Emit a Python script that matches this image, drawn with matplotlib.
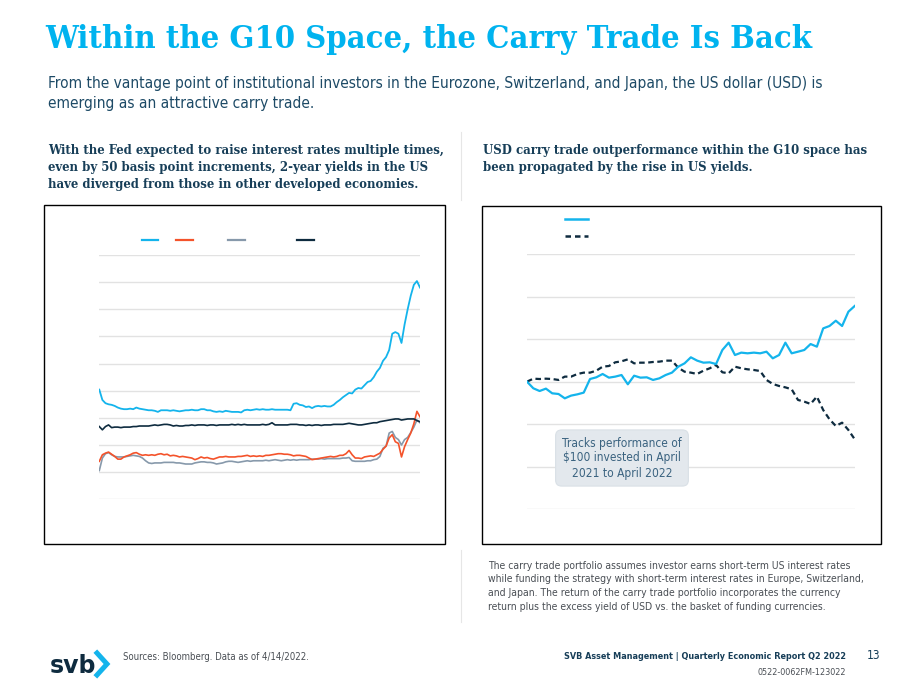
"""
Within the G10 space, the carry trade is back
Two-panel page: 2-year yields (left) and USD carry trade vs. G10 basket (right)
"""

import numpy as np
import pandas as pd
import matplotlib
matplotlib.use('Agg')
import matplotlib.pyplot as plt
from matplotlib.lines import Line2D
from matplotlib.patches import Rectangle

W, H = 920, 690

# ---- left panel: 2-year government yields (%), weekly, Apr 2020 - Apr 2022
yield_dates = pd.date_range('2020-04-14', periods=105, freq='7D')

us_2y = [
    0.52, 0.33, 0.27, 0.25, 0.24, 0.22, 0.19, 0.17, 0.16, 0.16,
    0.17, 0.16, 0.19, 0.17, 0.16, 0.15, 0.14, 0.14, 0.13, 0.11,
    0.14, 0.14, 0.14, 0.13, 0.14, 0.13, 0.12, 0.13, 0.14, 0.14,
    0.15, 0.14, 0.14, 0.16, 0.16, 0.14, 0.14, 0.12, 0.11, 0.12,
    0.11, 0.13, 0.12, 0.11, 0.11, 0.11, 0.10, 0.14, 0.15, 0.14,
    0.15, 0.16, 0.15, 0.16, 0.15, 0.15, 0.16, 0.15, 0.15, 0.15,
    0.15, 0.15, 0.14, 0.26, 0.27, 0.24, 0.23, 0.20, 0.21, 0.18,
    0.21, 0.22, 0.21, 0.22, 0.21, 0.21, 0.24, 0.29, 0.33, 0.38,
    0.42, 0.46, 0.45, 0.52, 0.55, 0.54, 0.60, 0.66, 0.68, 0.75,
    0.85, 0.92, 1.05, 1.12, 1.25, 1.55, 1.58, 1.55, 1.38, 1.72,
    2.00, 2.25, 2.45, 2.52, 2.40,
]
germany_2y = [
    -0.80, -0.68, -0.65, -0.63, -0.67, -0.71, -0.76, -0.76, -0.72, -0.70,
    -0.68, -0.65, -0.64, -0.67, -0.69, -0.68, -0.69, -0.68, -0.69, -0.67,
    -0.66, -0.68, -0.67, -0.70, -0.69, -0.70, -0.72, -0.71, -0.72, -0.73,
    -0.74, -0.77, -0.75, -0.72, -0.74, -0.73, -0.75, -0.76, -0.74, -0.72,
    -0.72, -0.71, -0.72, -0.72, -0.72, -0.71, -0.71, -0.70, -0.69, -0.71,
    -0.70, -0.71, -0.70, -0.71, -0.69, -0.69, -0.68, -0.67, -0.66, -0.66,
    -0.67, -0.67, -0.68, -0.70, -0.69, -0.69, -0.70, -0.71, -0.74, -0.77,
    -0.76, -0.75, -0.74, -0.73, -0.72, -0.71, -0.72, -0.71, -0.69, -0.69,
    -0.66, -0.60, -0.68, -0.74, -0.74, -0.75, -0.72, -0.71, -0.70, -0.71,
    -0.68, -0.65, -0.58, -0.52, -0.37, -0.31, -0.44, -0.47, -0.72, -0.53,
    -0.40, -0.28, -0.11, 0.12, 0.02,
]
swiss_2y = [
    -0.97, -0.74, -0.66, -0.64, -0.68, -0.71, -0.72, -0.72, -0.72, -0.71,
    -0.70, -0.69, -0.70, -0.71, -0.74, -0.79, -0.83, -0.84, -0.83, -0.83,
    -0.83, -0.82, -0.82, -0.82, -0.82, -0.83, -0.83, -0.84, -0.85, -0.85,
    -0.85, -0.83, -0.82, -0.81, -0.81, -0.82, -0.82, -0.83, -0.85, -0.84,
    -0.83, -0.81, -0.80, -0.80, -0.81, -0.82, -0.81, -0.80, -0.79, -0.80,
    -0.79, -0.79, -0.79, -0.79, -0.78, -0.79, -0.78, -0.77, -0.78, -0.79,
    -0.78, -0.77, -0.78, -0.77, -0.78, -0.77, -0.77, -0.77, -0.77, -0.76,
    -0.76, -0.76, -0.75, -0.76, -0.75, -0.75, -0.75, -0.75, -0.75, -0.74,
    -0.74, -0.73, -0.79, -0.80, -0.80, -0.80, -0.80, -0.79, -0.79, -0.77,
    -0.76, -0.71, -0.56, -0.52, -0.28, -0.25, -0.36, -0.40, -0.50, -0.40,
    -0.36, -0.27, -0.17, -0.04, -0.09,
]
japan_2y = [
    -0.16, -0.22, -0.16, -0.13, -0.18, -0.17, -0.17, -0.18, -0.17, -0.17,
    -0.17, -0.16, -0.16, -0.15, -0.15, -0.15, -0.15, -0.14, -0.13, -0.14,
    -0.13, -0.12, -0.12, -0.13, -0.15, -0.14, -0.15, -0.15, -0.14, -0.14,
    -0.13, -0.14, -0.13, -0.13, -0.13, -0.14, -0.13, -0.13, -0.14, -0.13,
    -0.13, -0.13, -0.13, -0.12, -0.13, -0.12, -0.13, -0.12, -0.13, -0.13,
    -0.13, -0.13, -0.13, -0.12, -0.13, -0.12, -0.09, -0.13, -0.13, -0.13,
    -0.13, -0.13, -0.12, -0.12, -0.12, -0.13, -0.13, -0.14, -0.13, -0.14,
    -0.13, -0.13, -0.14, -0.13, -0.13, -0.13, -0.12, -0.12, -0.12, -0.12,
    -0.11, -0.10, -0.11, -0.12, -0.13, -0.13, -0.12, -0.11, -0.10, -0.09,
    -0.09, -0.07, -0.06, -0.05, -0.04, -0.03, -0.02, -0.02, -0.04, -0.03,
    -0.02, -0.02, -0.02, -0.05, -0.07,
]

# ---- right panel: $100 invested, weekly, Apr 2021 - Apr 2022
carry_dates = pd.date_range('2021-04-14', periods=53, freq='7D')

usd_carry = [
    100.00, 99.22, 98.90, 99.18, 98.63, 98.55, 98.04, 98.36, 98.51, 98.71,
    100.31, 100.51, 100.90, 100.47, 100.59, 100.78, 99.69, 100.70, 100.47, 100.51,
    100.20, 100.39, 100.78, 101.06, 101.76, 102.15, 102.86, 102.47, 102.23, 102.27,
    102.07, 103.72, 104.58, 103.13, 103.41, 103.33, 103.41, 103.33, 103.52, 102.74,
    103.13, 104.58, 103.33, 103.52, 103.72, 104.42, 104.11, 106.26, 106.54, 107.16,
    106.54, 108.22, 108.89,
]
g10_carry = [
    100.00, 100.35, 100.31, 100.35, 100.31, 100.20, 100.59, 100.59, 100.90, 101.06,
    101.06, 101.29, 101.76, 101.84, 102.27, 102.39, 102.62, 102.15, 102.23, 102.23,
    102.31, 102.35, 102.47, 102.47, 101.64, 101.17, 101.06, 100.90, 101.29, 101.57,
    101.96, 101.10, 100.98, 101.76, 101.57, 101.45, 101.37, 101.25, 100.20, 99.73,
    99.49, 99.33, 99.10, 97.85, 97.65, 97.38, 98.24, 96.67, 95.58, 94.79,
    95.18, 94.32, 93.23,
]

CYAN = '#14b4ec'
RED = '#f4532b'
GREY = '#8799ab'
NAVY = '#0e2b3f'
TEXT = '#1d4a66'
GRID = '#e2e2e2'

SANS = dict(family=['DejaVu Sans'], fontstretch='condensed')
SLAB = dict(family=['DejaVu Serif'], fontstretch='condensed', fontweight='bold')


def fx(x):
    return x / W


def fy(y):
    return 1 - y / H


def style_axes(ax):
    for s in ax.spines.values():
        s.set_visible(False)
    ax.tick_params(length=0, labelleft=False, labelbottom=False)
    ax.set_xticks([])
    ax.grid(axis='y', color=GRID, linewidth=1.0)
    ax.set_axisbelow(True)
    ax.patch.set_alpha(0)


fig = plt.figure(figsize=(9.2, 6.9), dpi=100)

# ---- page text
fig.text(fx(45), fy(48), 'Within the G10 Space, the Carry Trade Is Back',
         fontsize=23.4, color='#00b3ef', va='baseline', **SLAB)
fig.text(fx(48), fy(88), 'From the vantage point of institutional investors in the Eurozone, '
         'Switzerland, and Japan, the US dollar (USD) is',
         fontsize=11.1, color=TEXT, va='baseline', **SANS)
fig.text(fx(48), fy(108), 'emerging as an attractive carry trade.',
         fontsize=11.1, color=TEXT, va='baseline', **SANS)

left_head = ['With the Fed expected to raise interest rates multiple times,',
             'even by 50 basis point increments, 2-year yields in the US',
             'have diverged from those in other developed economies.']
for i, line in enumerate(left_head):
    fig.text(fx(48), fy(154 + 17 * i), line, fontsize=9.4, color='#173e58',
             va='baseline', **SLAB)
right_head = ['USD carry trade outperformance within the G10 space has',
              'been propagated by the rise in US yields.']
for i, line in enumerate(right_head):
    fig.text(fx(483), fy(154 + 17 * i), line, fontsize=9.4, color='#173e58',
             va='baseline', **SLAB)

# thin separators between the columns
fig.add_artist(Line2D([fx(461), fx(461)], [fy(132), fy(200)],
                      color='#e6e6e6', lw=0.8))
fig.add_artist(Line2D([fx(461), fx(461)], [fy(550), fy(622)],
                      color='#e6e6e6', lw=0.8))

# chart frames
fig.add_artist(Rectangle((fx(44), fy(544)), 401 / W, 339 / H, fill=False,
                         ec='black', lw=1.0, transform=fig.transFigure))
fig.add_artist(Rectangle((fx(482), fy(544)), 399 / W, 338 / H, fill=False,
                         ec='black', lw=1.0, transform=fig.transFigure))

# ---- left chart
ax1 = fig.add_axes([fx(99.3), fy(499.3), 320.7 / W, 244.3 / H])
style_axes(ax1)
ax1.set_ylim(-1.5, 3.0)
ax1.set_yticks(np.arange(-1.5, 3.01, 0.5))
ax1.set_xlim(yield_dates[0], yield_dates[-1])
ax1.plot(yield_dates, swiss_2y, color=GREY, lw=1.2)
ax1.plot(yield_dates, germany_2y, color=RED, lw=1.2)
ax1.plot(yield_dates, japan_2y, color=NAVY, lw=1.2)
ax1.plot(yield_dates, us_2y, color=CYAN, lw=1.3)

# legend keys (labels are not shown in the source)
for (x0, x1), c in zip([(141.7, 158), (176, 193), (228, 245), (297, 314)],
                       [CYAN, RED, GREY, NAVY]):
    fig.add_artist(Line2D([fx(x0), fx(x1)], [fy(240), fy(240)], color=c, lw=1.6))

# ---- right chart
ax2 = fig.add_axes([fx(527), fy(509.3), 327.7 / W, 255.3 / H])
style_axes(ax2)
ax2.set_ylim(85, 115)
ax2.set_yticks(np.arange(85, 115.1, 5))
ax2.set_xlim(carry_dates[0], carry_dates[-1])
ax2.plot(carry_dates, g10_carry, color=NAVY, lw=1.6, dashes=(2.5, 1.6))
ax2.plot(carry_dates, usd_carry, color=CYAN, lw=1.6)

fig.add_artist(Line2D([fx(565), fx(588)], [fy(219), fy(219)], color=CYAN, lw=1.8))
fig.add_artist(Line2D([fx(565), fx(588)], [fy(236), fy(236)], color=NAVY, lw=1.8,
                      dashes=(2.2, 1.6)))

fig.text(fx(622), fy(458), 'Tracks performance of\n$100 invested in April\n2021 to April 2022',
         ha='center', va='center', fontsize=8.6, color='#3b6380',
         linespacing=1.2, **SANS,
         bbox=dict(boxstyle='round,pad=0.55,rounding_size=0.5', fc='#e3e8ed',
                   ec='#d9e0e6', lw=0.8))

# ---- footnote
note = ['The carry trade portfolio assumes investor earns short-term US interest rates',
        'while funding the strategy with short-term interest rates in Europe, Switzerland,',
        'and Japan. The return of the carry trade portfolio incorporates the currency',
        'return plus the excess yield of USD vs. the basket of funding currencies.']
for i, line in enumerate(note):
    fig.text(fx(488), fy(569 + 13.5 * i), line, fontsize=7.5, color='#4a4f55',
             va='baseline', **SANS)

# ---- footer
fig.text(fx(50), fy(673), 'svb', fontsize=17, fontweight='bold', color=NAVY,
         family=['DejaVu Sans'], va='baseline')
fig.add_artist(Line2D([fx(97), fx(107), fx(97)], [fy(653), fy(664), fy(675)],
                      color=CYAN, lw=3.6, solid_joinstyle='miter'))
fig.text(fx(123), fy(660), 'Sources: Bloomberg. Data as of 4/14/2022.',
         fontsize=6.9, color='#4a4f55', va='baseline', **SANS)
fig.text(fx(846), fy(659), 'SVB Asset Management | Quarterly Economic Report Q2 2022',
         fontsize=6.5, fontweight='bold', color='#173e58', ha='right',
         va='baseline', family=['DejaVu Sans'], fontstretch='condensed')
fig.text(fx(880), fy(659), '13', fontsize=8.5, color='#173e58', ha='right',
         va='baseline', **SANS)
fig.text(fx(846), fy(675), '0522-0062FM-123022', fontsize=6.5, color='#4a4f55',
         ha='right', va='baseline', **SANS)

fig.savefig('out.png', dpi=100)
plt.close(fig)
